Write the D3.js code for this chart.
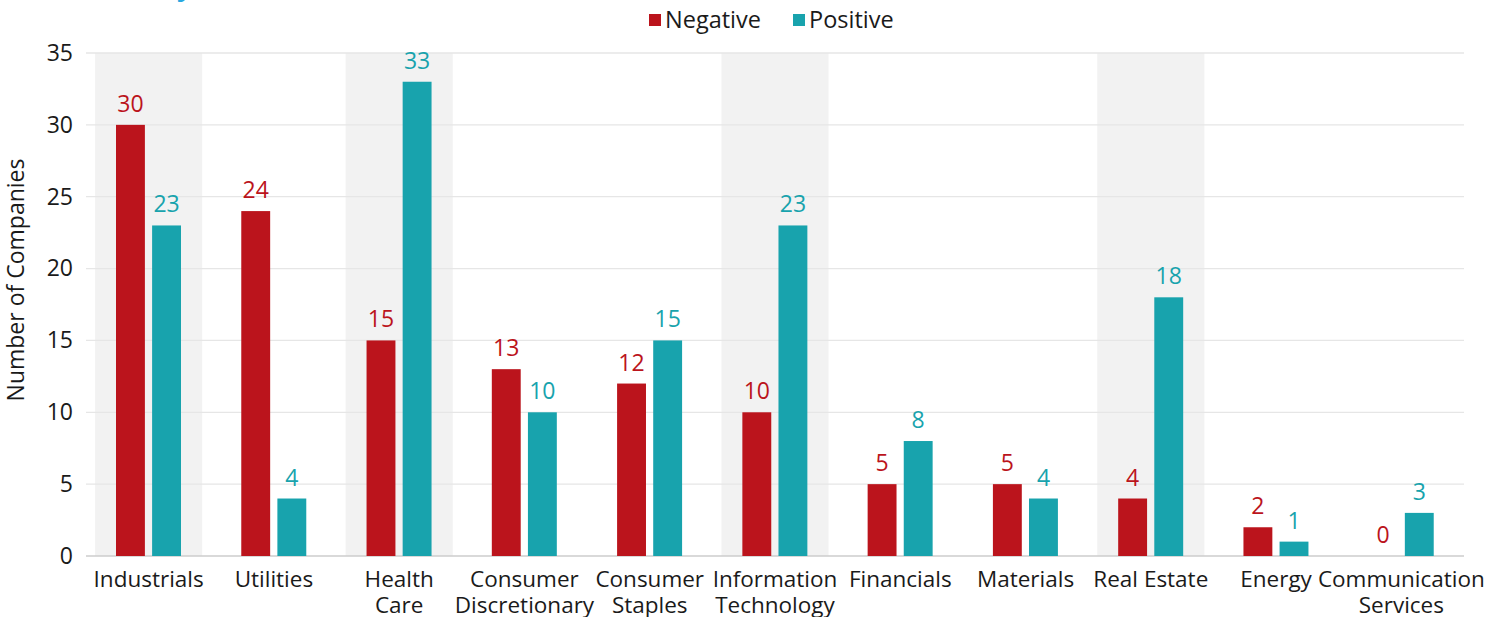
<!DOCTYPE html>
<html>
<head>
<meta charset="utf-8">
<script src="https://cdn.jsdelivr.net/npm/d3@7"></script>
<style>
  html, body { margin: 0; padding: 0; background: #fff; }
  svg text { font-family: "Open Sans", "Noto Sans", sans-serif; }
</style>
</head>
<body>
<div id="chart"></div>
<script>
// Sector counts, negative vs positive, grouped bars

const categories = ["Industrials", "Utilities", "Health Care", "Consumer Discretionary",
  "Consumer Staples", "Information Technology", "Financials", "Materials",
  "Real Estate", "Energy", "Communication Services"]
const categoryLines = [["Industrials"], ["Utilities"], ["Health", "Care"],
  ["Consumer", "Discretionary"], ["Consumer", "Staples"], ["Information", "Technology"],
  ["Financials"], ["Materials"], ["Real Estate"], ["Energy"], ["Communication", "Services"]]
const negative = [30, 24, 15, 13, 12, 10, 5, 5, 4, 2, 0]
const positive = [23, 4, 33, 10, 15, 23, 8, 4, 18, 1, 3]
const shaded = ["Industrials", "Health Care", "Information Technology", "Real Estate"]
const seriesNames = ["Negative", "Positive"]
const yTicks = [0, 5, 10, 15, 20, 25, 30, 35]

const WIDTH = 1510
const HEIGHT = 617
const MARGIN = { TOP: 53, RIGHT: 46, BOTTOM: 61, LEFT: 86 }
const COLORS = { Negative: "#bb141c", Positive: "#18a3ad" }

const svg = d3.select("#chart")
  .append("svg")
  .attr("width", WIDTH)
  .attr("height", HEIGHT)

const x = d3.scaleBand()
  .domain(categories)
  .range([MARGIN.LEFT, WIDTH - MARGIN.RIGHT])

const x1 = d3.scaleBand()
  .domain(seriesNames)
  .range([30, 95])
  .paddingInner(0.2)

const y = d3.scaleLinear()
  .domain([0, 35])
  .range([HEIGHT - MARGIN.BOTTOM, MARGIN.TOP])

// partial title, cut off at top
svg.append("text")
  .attr("x", 193)
  .attr("y", -5)
  .attr("text-anchor", "end")
  .attr("fill", "#29a8e0")
  .attr("font-size", 28)
  .attr("font-weight", "bold")
  .text("Summary")

// shaded bands
const bandW = x.bandwidth() * 0.855
svg.append("g")
  .selectAll("rect")
  .data(shaded)
  .enter()
  .append("rect")
    .attr("x", d => x(d) + (x.bandwidth() - bandW) / 2)
    .attr("y", y(35))
    .attr("width", bandW)
    .attr("height", y(0) - y(35))
    .attr("fill", "#f2f2f2")

// gridlines
svg.append("g")
  .selectAll("line")
  .data(yTicks.filter(d => d > 0))
  .enter()
  .append("line")
    .attr("x1", MARGIN.LEFT)
    .attr("x2", WIDTH - MARGIN.RIGHT)
    .attr("y1", d => y(d))
    .attr("y2", d => y(d))
    .attr("stroke", "#e6e6e6")
    .attr("stroke-width", 1.3)

svg.append("line")
  .attr("x1", MARGIN.LEFT)
  .attr("x2", WIDTH - MARGIN.RIGHT)
  .attr("y1", y(0))
  .attr("y2", y(0))
  .attr("stroke", "#cccccc")
  .attr("stroke-width", 1.5)

// y axis labels
const yAxis = svg.append("g")
  .attr("transform", `translate(${MARGIN.LEFT},0)`)
  .call(d3.axisLeft(y).tickValues(yTicks).tickSize(0).tickPadding(13))
yAxis.select(".domain").remove()
yAxis.selectAll("text")
  .attr("font-size", 23)
  .attr("fill", "#1a1a1a")
  .attr("font-family", "Open Sans, sans-serif")

svg.append("text")
  .attr("transform", "translate(24,280) rotate(-90)")
  .attr("text-anchor", "middle")
  .attr("font-size", 23)
  .attr("fill", "#1a1a1a")
  .text("Number of Companies")

// bars
const rows = categories.map((c, i) => ({
  cat: c,
  values: [{ key: "Negative", v: negative[i] }, { key: "Positive", v: positive[i] }]
}))

const groups = svg.append("g")
  .selectAll("g")
  .data(rows)
  .enter()
  .append("g")
    .attr("transform", d => `translate(${x(d.cat)},0)`)

groups.selectAll("rect")
  .data(d => d.values)
  .enter()
  .append("rect")
    .attr("x", d => x1(d.key))
    .attr("y", d => y(d.v))
    .attr("width", x1.bandwidth())
    .attr("height", d => y(0) - y(d.v))
    .attr("fill", d => COLORS[d.key])

groups.selectAll("text")
  .data(d => d.values)
  .enter()
  .append("text")
    .attr("x", d => x1(d.key) + x1.bandwidth() / 2)
    .attr("y", d => y(d.v) - 13)
    .attr("text-anchor", "middle")
    .attr("font-size", 23)
    .attr("fill", d => COLORS[d.key])
    .text(d => d.v)

// category labels
const catLabels = svg.append("g")
  .selectAll("text")
  .data(categories)
  .enter()
  .append("text")
    .attr("x", d => x(d) + x.bandwidth() / 2)
    .attr("y", y(0) + 31)
    .attr("text-anchor", "middle")
    .attr("font-size", 22.5)
    .attr("fill", "#1a1a1a")

catLabels.selectAll("tspan")
  .data((d, i) => categoryLines[i])
  .enter()
  .append("tspan")
    .attr("x", function() { return d3.select(this.parentNode).attr("x") })
    .attr("dy", (d, i) => i === 0 ? 0 : 26)
    .text(d => d)

// legend
const legendX = [649, 793]
const legend = svg.append("g")
  .selectAll("g")
  .data(seriesNames)
  .enter()
  .append("g")
    .attr("transform", (d, i) => `translate(${legendX[i]},0)`)

legend.append("rect")
  .attr("x", 0)
  .attr("y", 14)
  .attr("width", 12)
  .attr("height", 12)
  .attr("fill", d => COLORS[d])

legend.append("text")
  .attr("x", 16)
  .attr("y", 28)
  .attr("font-size", 23.5)
  .attr("fill", "#1a1a1a")
  .text(d => d)
</script>
</body>
</html>
